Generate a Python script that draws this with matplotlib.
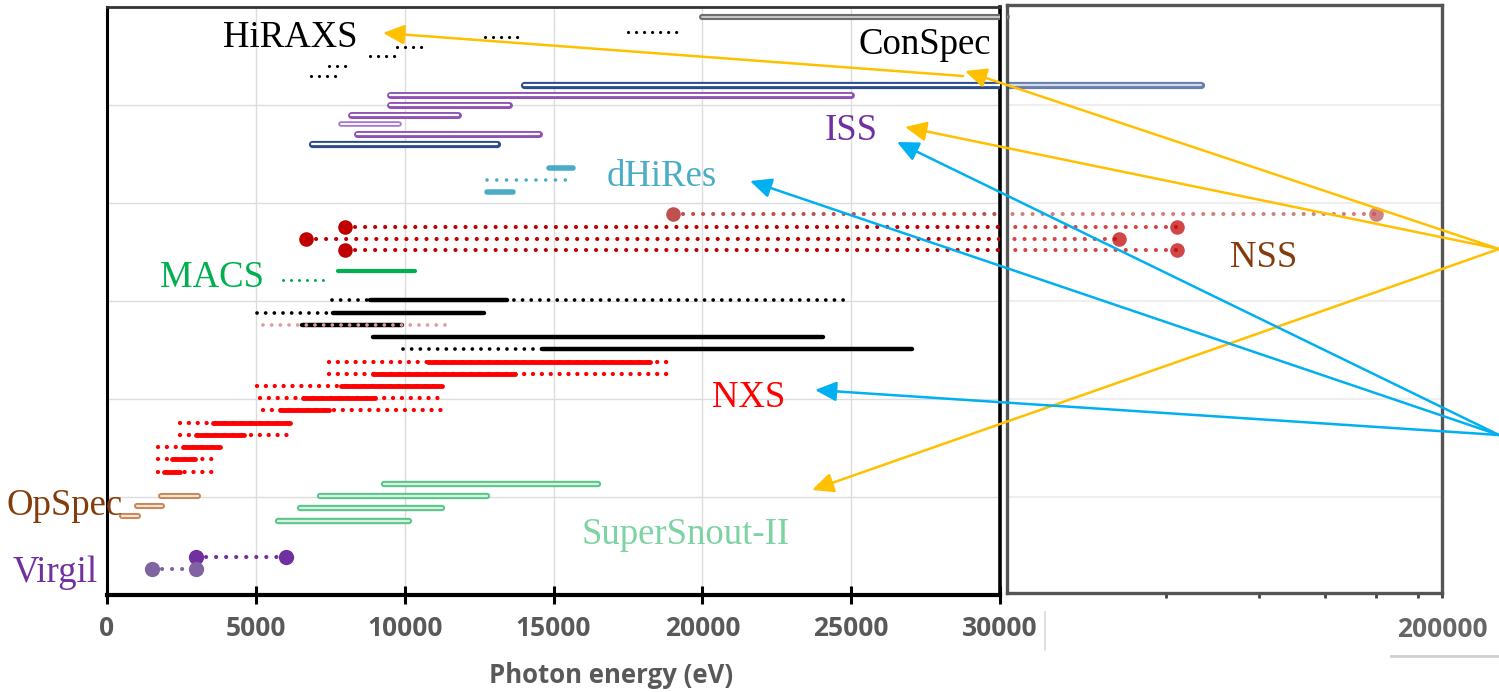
import matplotlib
matplotlib.use('Agg')
import matplotlib.pyplot as plt
from matplotlib.lines import Line2D
from matplotlib.patches import FancyArrowPatch
from matplotlib.ticker import FixedLocator, NullFormatter

plt.rcParams['font.family'] = ['Open Sans', 'DejaVu Sans']

# ---- data (photon energy in eV, y = row position) ----
hiraxs_y = [45.96, 45.55, 44.73, 44.0, 43.18, 42.37]
hiraxs_lo = [17500, 12700, 9750, 8850, 7450, 6850]
hiraxs_hi = [19350, 13800, 10700, 9700, 8250, 7850]

conspec_y = [47.18]
conspec_lo = [20000]
conspec_hi = [30000]

iss_blue_y = [41.63, 36.82]
iss_blue_lo = [14000, 6900]
iss_blue_hi = [70000, 13100]
iss_purple_y = [40.82, 40.0, 39.18, 37.63]
iss_purple_lo = [9500, 9500, 8200, 8400]
iss_purple_hi = [25000, 13500, 11800, 14500]
iss_light_y = [38.45]
iss_light_lo = [7850]
iss_light_hi = [9800]

dhires_bar_y = [34.86, 32.9]
dhires_bar_lo = [14850, 12750]
dhires_bar_hi = [15650, 13650]
dhires_dot_y = [33.88]
dhires_dot_lo = [12750]
dhires_dot_hi = [15550]

nss_y = [31.1, 30.04, 29.06, 28.16]
nss_lo = [19000, 8000, 6700, 8000]
nss_hi = [150000, 63000, 49000, 63000]

macs_solid_y = [26.45]
macs_solid_lo = [7750]
macs_solid_hi = [10350]
macs_dot_y = [25.71]
macs_dot_lo = [5900]
macs_dot_hi = [7500]

blk_dot_y = [24.08, 23.02, 20.08]
blk_dot_lo = [7550, 5050, 9950]
blk_dot_hi = [24750, 7600, 14600]
blk_solid_y = [24.08, 23.02, 22.04, 21.06, 20.08]
blk_solid_lo = [8850, 7600, 6550, 8950, 14600]
blk_solid_hi = [13450, 12650, 9900, 24050, 27050]
pink_dot_y = [22.04]
pink_dot_lo = [5250]
pink_dot_hi = [11450]

nxs_y = [19.02, 18.04, 17.06, 16.08, 15.10, 14.04, 13.06, 12.08, 11.10, 10.04]
nxs_dot_lo = [7450, 7450, 5050, 5150, 5250, 2450, 2450, 1700, 1700, 1700]
nxs_dot_hi = [18800, 18850, 11250, 11350, 11400, 6300, 6300, 3800, 3750, 3550]
nxs_solid_lo = [10800, 8950, 7850, 6600, 5800, 3550, 3000, 2550, 2200, 1900]
nxs_solid_hi = [18250, 13700, 11250, 9000, 7450, 6150, 4600, 3800, 2950, 2450]

snout_y = [9.06, 8.08, 7.10, 6.04]
snout_lo = [9300, 7150, 6500, 5750]
snout_hi = [16500, 12750, 11250, 10150]

opspec_y = [8.08, 7.27, 6.45]
opspec_lo = [1800, 1000, 500]
opspec_hi = [3050, 1850, 1050]

virgil_y = [3.1, 2.12]
virgil_lo = [3000, 1500]
virgil_hi = [6000, 3000]

xticks_left = [0, 5000, 10000, 15000, 20000, 25000, 30000]
xticks_right_minor = [60000, 90000, 120000, 150000, 180000]

# ---- figure ----
W, H = 1499, 692
fig = plt.figure(figsize=(W / 100, H / 100), dpi=100)


def fp(x, y):
    return x / W, 1 - y / H


ax = fig.add_axes([107 / W, 1 - 595 / H, 893 / W, 588 / H])
axr = fig.add_axes([1007 / W, 1 - 593 / H, 435 / W, 588 / H])
axes = [(ax, 1.0), (axr, 0.72)]


def capsule(x0, x1, y, c, inner, lw=5.0, ilw=1.6):
    for a, al in axes:
        a.plot([x0, x1], [y, y], color=c, lw=lw, solid_capstyle='round', alpha=al, zorder=3)
        a.plot([x0, x1], [y, y], color=inner, lw=ilw, solid_capstyle='round', alpha=al, zorder=3)


def solid(x0, x1, y, c, lw=3.0):
    for a, al in axes:
        a.plot([x0, x1], [y, y], color=c, lw=lw, solid_capstyle='round', alpha=al, zorder=3)


def dots(x0, x1, y, c, lw=2.6, gap=2.4):
    for a, al in axes:
        a.plot([x0, x1], [y, y], color=c, lw=lw, ls=(0, (0.01, gap)),
               dash_capstyle='round', alpha=al, zorder=4)


def ends(x0, x1, y, c, ms=10):
    for a, al in axes:
        a.plot([x0, x1], [y, y], 'o', color=c, ms=ms, mec='none', alpha=al, zorder=5)


for y, a, b in zip(hiraxs_y, hiraxs_lo, hiraxs_hi):
    dots(a, b, y, 'black', lw=2.3, gap=2.5)
for y, a, b in zip(conspec_y, conspec_lo, conspec_hi):
    capsule(a, b, y, '#6E6E6E', '#D0D0D0', lw=4.4, ilw=1.3)
for y, a, b in zip(iss_blue_y, iss_blue_lo, iss_blue_hi):
    capsule(a, b, y, '#2B4C8C', 'white', lw=5.2)
for y, a, b in zip(iss_purple_y, iss_purple_lo, iss_purple_hi):
    capsule(a, b, y, '#8F50B4', 'white')
for y, a, b in zip(iss_light_y, iss_light_lo, iss_light_hi):
    capsule(a, b, y, '#A777C8', 'white', lw=4.0, ilw=1.3)

for y, a, b in zip(dhires_bar_y, dhires_bar_lo, dhires_bar_hi):
    solid(a, b, y, '#4BACC6', lw=4.0)
for y, a, b in zip(dhires_dot_y, dhires_dot_lo, dhires_dot_hi):
    dots(a, b, y, '#4BACC6', lw=2.6, gap=2.7)

for i, (y, a, b) in enumerate(zip(nss_y, nss_lo, nss_hi)):
    c = '#C0504D' if i == 0 else '#C00000'
    dots(a, b, y, c, lw=3.0, gap=2.4)
    ends(a, b, y, c, ms=10.5)

for y, a, b in zip(macs_solid_y, macs_solid_lo, macs_solid_hi):
    solid(a, b, y, '#00B050', lw=3.0)
for y, a, b in zip(macs_dot_y, macs_dot_lo, macs_dot_hi):
    dots(a, b, y, '#00B050', lw=2.2, gap=2.6)

for y, a, b in zip(blk_dot_y, blk_dot_lo, blk_dot_hi):
    dots(a, b, y, 'black', lw=2.7, gap=2.3)
for y, a, b in zip(blk_solid_y, blk_solid_lo, blk_solid_hi):
    solid(a, b, y, 'black', lw=3.2)
for y, a, b in zip(pink_dot_y, pink_dot_lo, pink_dot_hi):
    dots(a, b, y, '#E39A9A', lw=2.7, gap=2.3)

for y, a, b, s0, s1 in zip(nxs_y, nxs_dot_lo, nxs_dot_hi, nxs_solid_lo, nxs_solid_hi):
    dots(a, b, y, '#FF0000', lw=3.1, gap=2.05)
    solid(s0, s1, y, '#FF0000', lw=3.5)

for y, a, b in zip(snout_y, snout_lo, snout_hi):
    capsule(a, b, y, '#5CC68A', '#D8F3E3', lw=4.6, ilw=1.6)
for y, a, b in zip(opspec_y, opspec_lo, opspec_hi):
    capsule(a, b, y, '#C8885A', '#F7E4D6', lw=4.4, ilw=1.5)

for i, (y, a, b) in enumerate(zip(virgil_y, virgil_lo, virgil_hi)):
    c = '#7030A0' if i == 0 else '#8064A2'
    dots(a, b, y, c, lw=3.0, gap=2.4)
    ends(a, b, y, c, ms=11)

# ---- axes styling ----
ax.set_xlim(0, 30000)
ax.set_ylim(0, 48)
ax.set_xticks(xticks_left)
ax.set_xticklabels([str(v) for v in xticks_left])
ax.set_yticks([8, 16, 24, 32, 40])
ax.set_yticklabels([])
ax.tick_params(axis='y', length=0)
ax.tick_params(axis='x', direction='inout', length=13, width=2.2, color='black',
               labelsize=19, labelcolor='#595959', pad=8)
for t in ax.get_xticklabels():
    t.set_fontweight('bold')
ax.grid(True, color='#DCDCDC', lw=1.0, zorder=0)
ax.set_axisbelow(True)
ax.spines['left'].set_linewidth(2.2)
ax.spines['right'].set_linewidth(2.6)
ax.spines['top'].set_linewidth(2.0)
ax.spines['top'].set_color('#333333')
ax.spines['bottom'].set_linewidth(3.0)

axr.set_xscale('log')
axr.set_xlim(30000, 200000)
axr.set_ylim((595 - 593) / 12.25, (595 - 5) / 12.25)
axr.xaxis.set_major_locator(FixedLocator([200000]))
axr.set_xticklabels(['200000'])
axr.xaxis.set_minor_locator(FixedLocator(xticks_right_minor))
axr.xaxis.set_minor_formatter(NullFormatter())
axr.tick_params(axis='x', which='both', direction='out', length=3.5, width=2.0,
                color='#444444', labelsize=19, labelcolor='#666666', pad=13)
for t in axr.get_xticklabels():
    t.set_fontweight('bold')
axr.set_yticks([8, 16, 24, 32, 40])
axr.set_yticklabels([])
axr.tick_params(axis='y', length=0)
axr.grid(True, axis='y', color='#EEEEEE', lw=1.5)
axr.set_axisbelow(True)
for s in axr.spines.values():
    s.set_linewidth(2.4)
    s.set_color('#555555')

fig.text(*fp(611, 683), 'Photon energy (eV)', ha='center', va='baseline',
         fontsize=18.5, fontweight='bold', color='#595959')

# ---- instrument labels ----
serif = ['Liberation Serif', 'DejaVu Serif']
labels = [
    ('HiRAXS', 223, 47, 'black'),
    ('ConSpec', 858, 54, 'black'),
    ('ISS', 825, 140, '#7030A0'),
    ('dHiRes', 607, 186, '#4BACC6'),
    ('NSS', 1230, 267, '#843C0C'),
    ('MACS', 160, 287, '#00B050'),
    ('NXS', 712, 407, '#FF0000'),
    ('SuperSnout-II', 581, 544, '#7DD3A2'),
    ('OpSpec', 7, 515, '#843C0C'),
    ('Virgil', 13, 582, '#7030A0'),
]
for txt, x, y, c in labels:
    fig.text(*fp(x, y), txt, ha='left', va='baseline', fontsize=26.5,
             family=serif, color=c, zorder=6)

# ---- arrows ----
yellow, cyan = '#FFC000', '#00B0F0'
arrows = [
    ((1499, 249), (965, 71), yellow),
    ((1499, 249), (905, 127), yellow),
    ((1499, 249), (812, 490), yellow),
    ((963, 76), (383, 33), yellow),
    ((1499, 435), (897, 142), cyan),
    ((1499, 435), (750, 181), cyan),
    ((1499, 435), (815, 390), cyan),
]
for src, tip, c in arrows:
    fig.add_artist(FancyArrowPatch(fp(*src), fp(*tip), transform=fig.transFigure,
                                   arrowstyle='-|>,head_length=0.65,head_width=0.3',
                                   mutation_scale=20, lw=1.8, color=c,
                                   shrinkA=0, shrinkB=0, zorder=10))

# small leftover frame marks near the right panel's labels
fig.add_artist(Line2D([1045 / W, 1045 / W], [1 - 612 / H, 1 - 650 / H],
                      color='#D9D9D9', lw=1.2))
fig.add_artist(Line2D([1391 / W, 1.0], [1 - 656 / H, 1 - 656 / H],
                      color='#D0D0D0', lw=2.0))

fig.savefig('out.png', dpi=100)
